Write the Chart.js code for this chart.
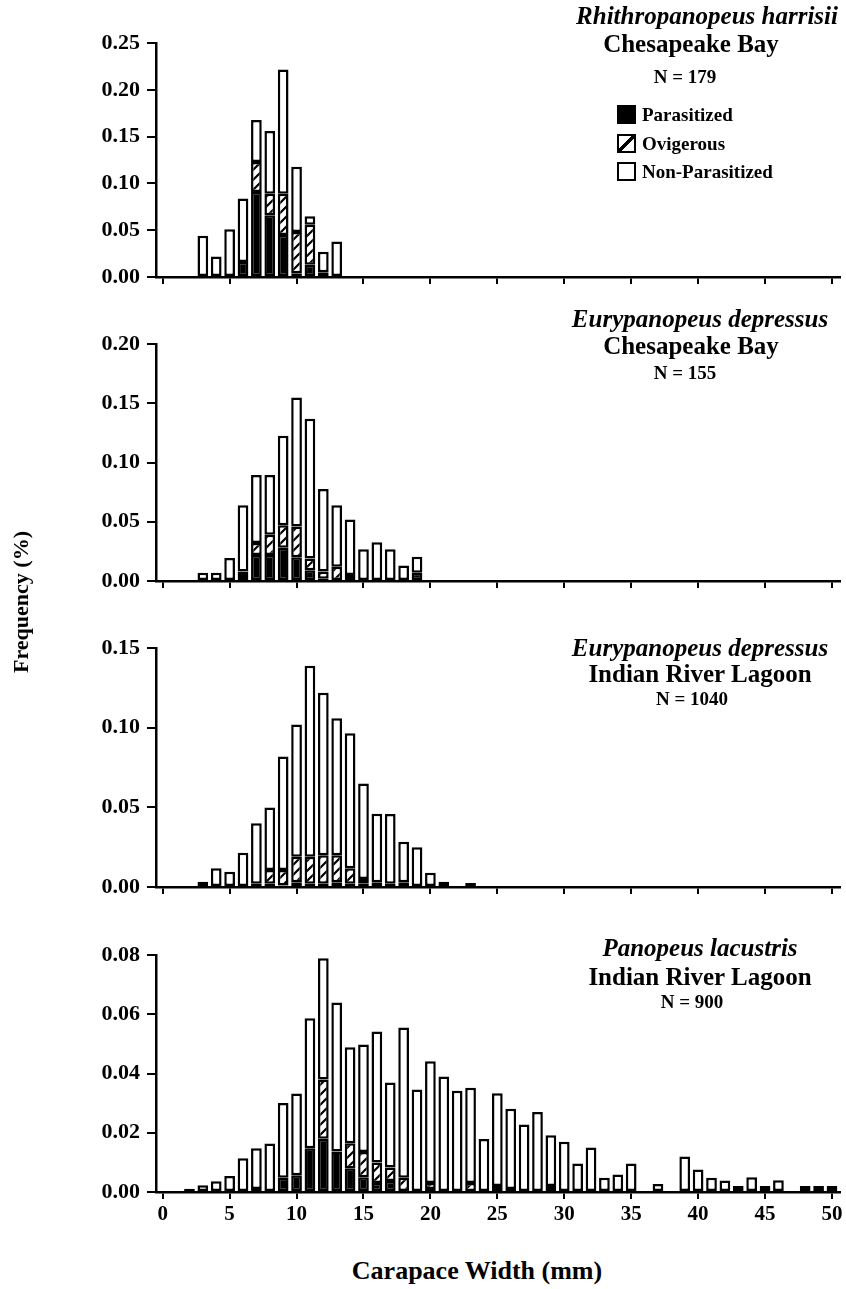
<!DOCTYPE html>
<html>
<head>
<meta charset="utf-8">
<script src="https://cdn.jsdelivr.net/npm/chart.js@4.4.0/dist/chart.umd.min.js"></script>
<style>
  body { margin: 0; background: #fff; }
  #pagina { position: relative; width: 846px; height: 1289px; background: #fff; overflow: hidden;
            font-family: 'Liberation Serif', 'Times New Roman', serif; font-weight: bold; color: #000; }
  #pagina canvas { position: absolute; left: 0; }
  .txt { position: absolute; white-space: nowrap; line-height: 1; }
  .centro { transform: translateX(-50%); }
  .caja { position: absolute; width: 15px; height: 15px; border: 2px solid #000; background: #fff; }
</style>
</head>
<body>
<div id="pagina">
  <canvas id="panel1"></canvas>
  <canvas id="panel2"></canvas>
  <canvas id="panel3"></canvas>
  <canvas id="panel4"></canvas>

  <div class="caja" style="left:617px; top:105px; background:#000;"></div>
  <div class="txt" style="left:642px; top:105px; font-size:19px;">Parasitized</div>
  <div class="caja" style="left:617px; top:134px; background:linear-gradient(to bottom right, #fff calc(50% - 1.5px), #000 calc(50% - 1.5px), #000 calc(50% + 1.5px), #fff calc(50% + 1.5px));"></div>
  <div class="txt" style="left:642px; top:134px; font-size:19px;">Ovigerous</div>
  <div class="caja" style="left:617px; top:162px;"></div>
  <div class="txt" style="left:642px; top:162px; font-size:19px;">Non-Parasitized</div>

  <div class="txt" style="left:21px; top:602px; font-size:22px; transform: translate(-50%, -50%) rotate(-90deg);">Frequency (%)</div>
  <div class="txt centro" style="left:477px; top:1258px; font-size:26px;">Carapace Width (mm)</div>
</div>

<script>
// ancho del caparazon (mm) y frecuencias por clase, cada panel por separado
// valores = altura de cada tramo apilado (parasitados abajo, ovigeras, no parasitados arriba)

// Rhithropanopeus harrisii - Chesapeake Bay
const anchos1 = [3, 4, 5, 6, 7, 8, 9, 10, 11, 12, 13];
const parasitados1 = [0, 0, 0, 0.016, 0.091, 0.066, 0.045, 0.004, 0.013, 0.005, 0];
const ovigeras1 = [0, 0, 0, 0, 0.032, 0.023, 0.044, 0.044, 0.043, 0, 0];
const noParasitados1 = [0.044, 0.022, 0.051, 0.068, 0.045, 0.067, 0.133, 0.070, 0.009, 0.022, 0.038];

// Eurypanopeus depressus - Chesapeake Bay
const anchos2 = [3, 4, 5, 6, 7, 8, 9, 10, 11, 12, 13, 14, 15, 16, 17, 18, 19];
const parasitados2 = [0, 0, 0, 0.005, 0.022, 0.022, 0.028, 0.020, 0.009, 0.002, 0, 0, 0, 0, 0, 0, 0.007];
const ovigeras2 = [0, 0, 0, 0.003, 0.010, 0.017, 0.019, 0.026, 0.010, 0.006, 0.012, 0.005, 0, 0, 0, 0, 0];
const noParasitados2 = [0.007, 0.007, 0.0195, 0.056, 0.0576, 0.0506, 0.0756, 0.109, 0.118, 0.0697, 0.052, 0.047, 0.0268, 0.0328, 0.0268, 0.013, 0.0135];

// Eurypanopeus depressus - Indian River Lagoon
const anchos3 = [3, 4, 5, 6, 7, 8, 9, 10, 11, 12, 13, 14, 15, 16, 17, 18, 19, 20, 21, 23];
const parasitados3 = [0.0033, 0, 0, 0, 0.002, 0.002, 0.001, 0.003, 0.002, 0.002, 0.003, 0.002, 0.002, 0.003, 0.002, 0.003, 0, 0, 0.0033, 0.0025];
const ovigeras3 = [0, 0, 0, 0, 0, 0.0087, 0.0097, 0.016, 0.017, 0.018, 0.017, 0.0097, 0.003, 0, 0, 0, 0, 0, 0, 0];
const noParasitados3 = [0, 0.0117, 0.0096, 0.0215, 0.038, 0.0393, 0.0713, 0.083, 0.120, 0.102, 0.086, 0.0848, 0.060, 0.043, 0.0438, 0.0254, 0.025, 0.009, 0, 0];

// Panopeus lacustris - Indian River Lagoon
const anchos4 = [2, 3, 4, 5, 6, 7, 8, 9, 10, 11, 12, 13, 14, 15, 16, 17, 18, 19, 20, 21, 22, 23, 24, 25, 26, 27, 28, 29, 30,
                 31, 32, 33, 34, 35, 37, 39, 40, 41, 42, 43, 44, 45, 46, 48, 49, 50];
const parasitados4 = [0.0011, 0, 0, 0, 0, 0.001, 0, 0.0048, 0.0057, 0.0148, 0.018, 0.0137, 0.008, 0.005, 0.003, 0.0037, 0, 0, 0.001, 0, 0, 0, 0, 0, 0.001, 0, 0, 0.002, 0,
                      0, 0, 0, 0, 0, 0, 0, 0, 0, 0, 0, 0, 0, 0, 0, 0, 0];
const ovigeras4 = [0, 0, 0, 0, 0, 0, 0, 0, 0, 0, 0.020, 0, 0.0085, 0.0085, 0.007, 0.0046, 0.0048, 0, 0.002, 0, 0, 0.003, 0, 0.002, 0, 0, 0, 0, 0,
                   0, 0, 0, 0, 0, 0, 0, 0, 0, 0, 0, 0, 0, 0, 0, 0, 0];
const noParasitados4 = [0, 0.0023, 0.0036, 0.0054, 0.0114, 0.0138, 0.0164, 0.0253, 0.0276, 0.0439, 0.041, 0.0503, 0.0324, 0.0363, 0.0442, 0.0287, 0.0508, 0.0346, 0.0412, 0.039, 0.0342, 0.0322, 0.0179, 0.0314, 0.0271, 0.0228, 0.027, 0.0172, 0.017,
                        0.0096, 0.015, 0.0048, 0.0059, 0.0096, 0.0027, 0.012, 0.0076, 0.0048, 0.0039, 0.002, 0.005, 0.002, 0.004, 0.002, 0.002, 0.002];

// textos de cada panel
const especies = ['Rhithropanopeus harrisii', 'Eurypanopeus depressus', 'Eurypanopeus depressus', 'Panopeus lacustris'];
const localidades = ['Chesapeake Bay', 'Chesapeake Bay', 'Indian River Lagoon', 'Indian River Lagoon'];
const tamanos = ['N = 179', 'N = 155', 'N = 1040', 'N = 900'];
const maximosY = [0.25, 0.20, 0.15, 0.08];
const pasosY = [0.05, 0.05, 0.05, 0.02];

const FUENTE = "'Liberation Serif', 'Times New Roman', serif";

// posicion de cada area de grafico en la pagina (arriba, abajo)
var areas = [[43, 277], [344, 581], [648, 887], [955, 1192]];
// centro vertical de las tres lineas del titulo
var lineasTitulo = [[15, 43, 76], [318, 345, 372], [647, 673, 698], [947, 976, 1001]];

function crearRayado(ctx) {
    var c = document.createElement('canvas');
    c.width = 10;
    c.height = 10;
    var g = c.getContext('2d');
    g.fillStyle = '#fff';
    g.fillRect(0, 0, 10, 10);
    g.strokeStyle = '#000';
    g.lineWidth = 2.2;
    g.beginPath();
    g.moveTo(-2, 12); g.lineTo(12, -2);
    g.moveTo(-2, 2); g.lineTo(2, -2);
    g.moveTo(8, 12); g.lineTo(12, 8);
    g.stroke();
    return ctx.createPattern(c, 'repeat');
}

function puntos(anchos, valores) {
    return anchos.map((a, i) => ({ x: a, y: valores[i] })).filter((p) => p.y > 0);
}

function crearPanel(n, anchos, par, ovi, non) {
    var canvas = document.getElementById('panel' + (n + 1));
    var arriba = areas[n][0], abajo = areas[n][1];
    var ultimo = n == 3;
    var altoX = ultimo ? 45 : 30;
    canvas.width = 846;
    canvas.height = (abajo - arriba) + 20 + altoX;
    canvas.style.top = (arriba - 20) + 'px';
    var ctx = canvas.getContext('2d');
    var rayado = crearRayado(ctx);

    var comun = { borderColor: '#000', borderWidth: 2.5, borderSkipped: false, categoryPercentage: 1, barPercentage: 0.8 };

    new Chart(ctx, {
        type: 'bar',
        data: {
            datasets: [
                Object.assign({ label: 'Parasitized', data: puntos(anchos, par), backgroundColor: '#000' }, comun),
                Object.assign({ label: 'Ovigerous', data: puntos(anchos, ovi), backgroundColor: rayado }, comun),
                Object.assign({ label: 'Non-Parasitized', data: puntos(anchos, non), backgroundColor: '#fff' }, comun)
            ]
        },
        options: {
            responsive: false,
            animation: false,
            layout: { padding: { top: 20, right: 6, left: 0, bottom: 0 } },
            plugins: { legend: { display: false }, tooltip: { enabled: false } },
            scales: {
                x: {
                    type: 'linear',
                    stacked: true,
                    offset: false,
                    min: -0.5,
                    max: 50.6,
                    ticks: {
                        stepSize: 5,
                        includeBounds: false,
                        display: ultimo,
                        maxRotation: 0,
                        padding: 3,
                        color: '#000',
                        font: { family: FUENTE, size: 21, weight: 'bold' }
                    },
                    grid: { offset: false, drawOnChartArea: false, tickLength: 7, color: '#000', lineWidth: 2 },
                    border: { color: '#000', width: 2.5 },
                    afterFit: (s) => { s.height = altoX; }
                },
                y: {
                    stacked: true,
                    min: 0,
                    max: maximosY[n],
                    ticks: {
                        stepSize: pasosY[n],
                        padding: 7,
                        color: '#000',
                        font: { family: FUENTE, size: 22, weight: 'bold' },
                        callback: (v) => v.toFixed(2)
                    },
                    grid: { drawOnChartArea: false, tickLength: 9, color: '#000', lineWidth: 2 },
                    border: { color: '#000', width: 2.5 },
                    afterFit: (s) => { s.width = 156; }
                }
            }
        }
    });

    // titulo del panel
    var pagina = document.getElementById('pagina');
    var l = lineasTitulo[n];
    var esp = document.createElement('div');
    esp.className = 'txt';
    esp.style.fontStyle = 'italic';
    esp.style.fontSize = '25px';
    esp.style.top = (l[0] - 12.5) + 'px';
    if (n == 0) {
        esp.style.right = '8px';
    } else {
        esp.classList.add('centro');
        esp.style.left = '700px';
    }
    esp.textContent = especies[n];
    pagina.appendChild(esp);

    var loc = document.createElement('div');
    loc.className = 'txt centro';
    loc.style.fontSize = '25px';
    loc.style.top = (l[1] - 12.5) + 'px';
    loc.style.left = (n < 2 ? 691 : 700) + 'px';
    loc.textContent = localidades[n];
    pagina.appendChild(loc);

    var tam = document.createElement('div');
    tam.className = 'txt centro';
    tam.style.fontSize = '19px';
    tam.style.top = (l[2] - 9.5) + 'px';
    tam.style.left = (n < 2 ? 685 : 692) + 'px';
    tam.textContent = tamanos[n];
    pagina.appendChild(tam);
}

crearPanel(0, anchos1, parasitados1, ovigeras1, noParasitados1);
crearPanel(1, anchos2, parasitados2, ovigeras2, noParasitados2);
crearPanel(2, anchos3, parasitados3, ovigeras3, noParasitados3);
crearPanel(3, anchos4, parasitados4, ovigeras4, noParasitados4);
</script>
</body>
</html>
